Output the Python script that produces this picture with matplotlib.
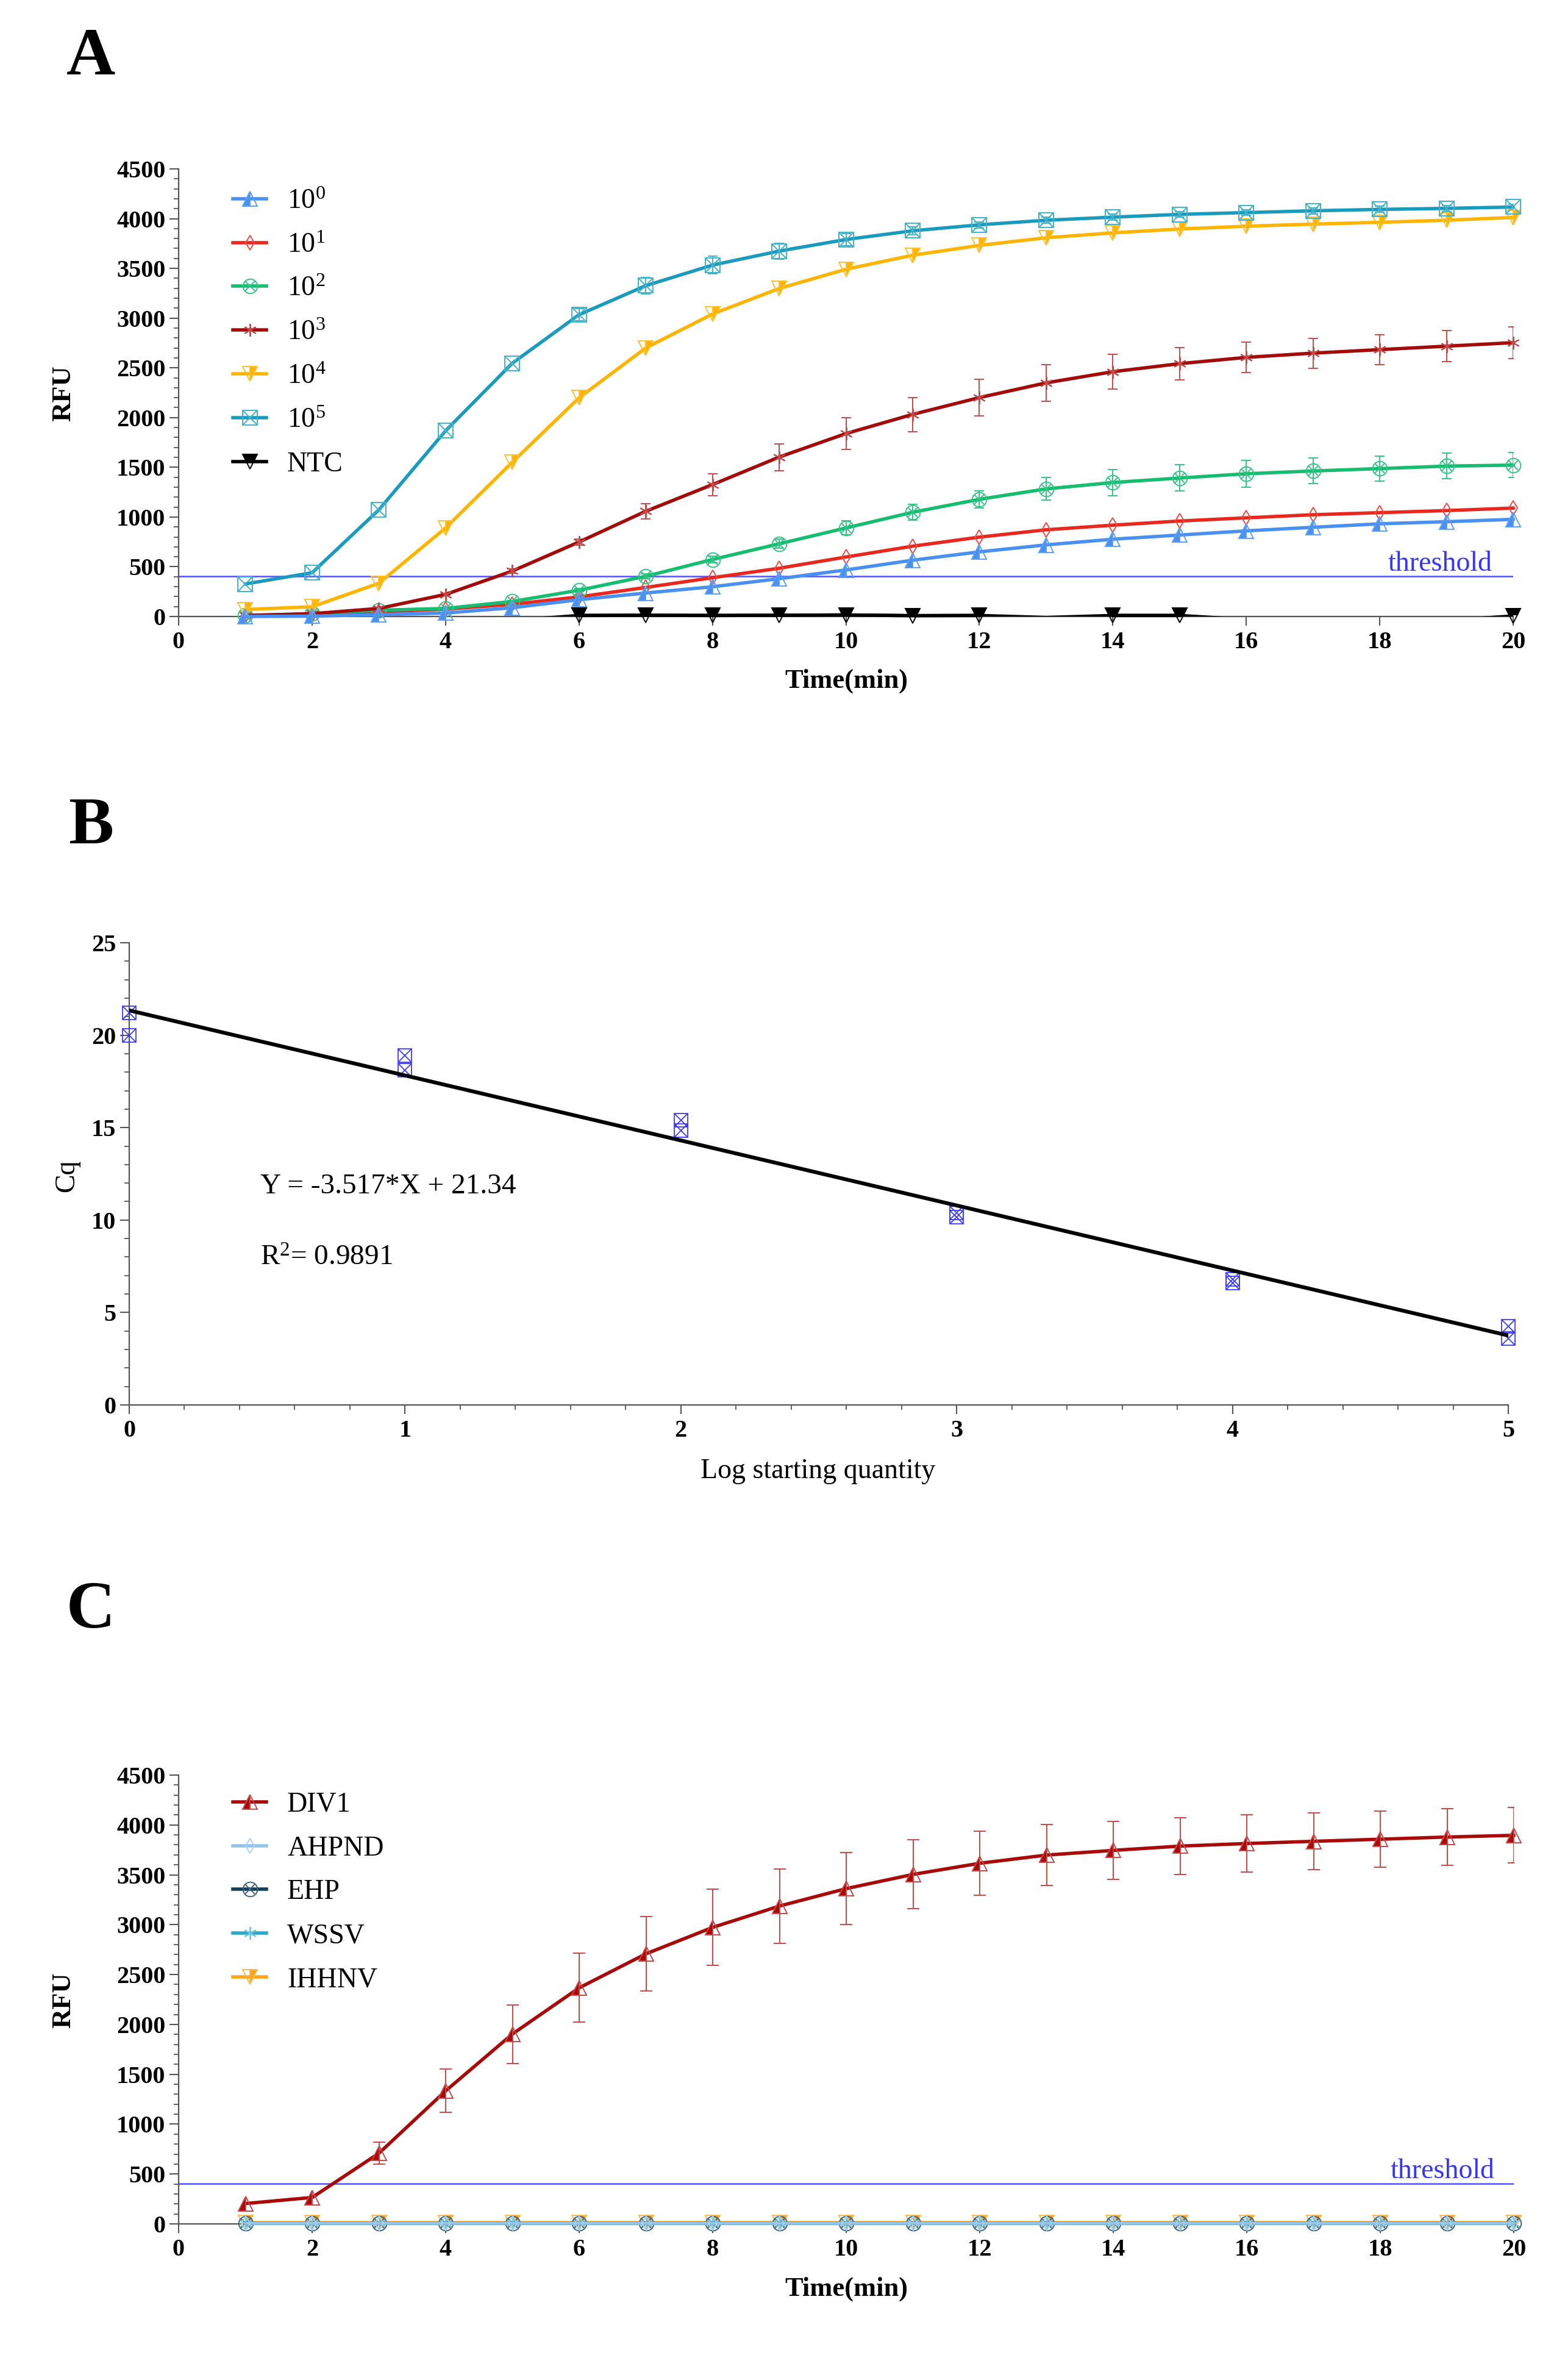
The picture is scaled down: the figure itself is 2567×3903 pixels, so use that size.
import numpy as np
import matplotlib
matplotlib.use("Agg")
import matplotlib.pyplot as plt
from matplotlib.ticker import MultipleLocator
from matplotlib.legend_handler import HandlerTuple

plt.rcParams['font.family'] = ['Liberation Serif', 'DejaVu Serif']
plt.rcParams['mathtext.fontset'] = 'custom'
plt.rcParams['mathtext.rm'] = 'Liberation Serif'
plt.rcParams['mathtext.it'] = 'Liberation Serif:italic'
plt.rcParams['mathtext.bf'] = 'Liberation Serif:bold'

# ---------------- data ----------------
time = [1, 2, 3, 4, 5, 6, 7, 8, 9, 10, 11, 12, 13, 14, 15, 16, 17, 18, 19, 20]

# Panel A: amplification curves of dilution series
rfu_1e0 = [0, 4, 18, 35, 88, 169, 236, 299, 380, 468, 566, 650, 720, 777, 819, 861, 897, 932, 953, 977]
rfu_1e1 = [5, 18, 46, 74, 123, 197, 292, 390, 485, 598, 707, 798, 872, 918, 960, 992, 1023, 1044, 1065, 1090]
rfu_1e2 = [10, 28, 63, 81, 151, 264, 404, 573, 731, 890, 1048, 1178, 1283, 1347, 1392, 1435, 1463, 1487, 1512, 1522]
err_1e2 = [0, 0, 0, 0, 10, 15, 25, 35, 45, 70, 79, 85, 114, 132, 132, 134, 128, 123, 128, 127]
rfu_1e3 = [10, 28, 81, 222, 457, 749, 1058, 1326, 1603, 1839, 2032, 2201, 2349, 2461, 2542, 2605, 2648, 2683, 2718, 2753]
err_1e3 = [0, 0, 0, 10, 20, 30, 75, 110, 135, 158, 172, 185, 183, 176, 162, 153, 150, 150, 158, 160]
rfu_1e4 = [70, 98, 334, 890, 1551, 2198, 2700, 3041, 3298, 3491, 3632, 3731, 3808, 3857, 3896, 3924, 3945, 3963, 3984, 4012]
rfu_1e5 = [327, 440, 1072, 1867, 2546, 3034, 3326, 3533, 3674, 3790, 3878, 3938, 3984, 4015, 4043, 4061, 4079, 4093, 4103, 4117]
err_1e5 = [0, 0, 0, 0, 0, 60, 80, 90, 80, 60, 40, 30, 30, 30, 30, 30, 30, 30, 30, 30]
rfu_ntc = [-40, -40, -40, -40, -40, 10, 12, 10, 12, 15, 8, 10, -10, 10, 10, -30, -40, -40, -40, 5]
labels_A = [r'$\mathregular{10^{0}}$', r'$\mathregular{10^{1}}$', r'$\mathregular{10^{2}}$',
            r'$\mathregular{10^{3}}$', r'$\mathregular{10^{4}}$', r'$\mathregular{10^{5}}$', 'NTC']

threshold = 405

# Panel B: standard curve
log_qty = [0, 0, 1, 1, 2, 2, 3, 3, 4, 4, 5, 5]
cq = [21.2, 20.0, 18.9, 18.1, 15.4, 14.85, 10.4, 10.15, 6.8, 6.6, 4.25, 3.6]
fit_slope = -3.517
fit_intercept = 21.34
fit_x = [0, 5]

# Panel C: specificity
div1 = [204, 265, 708, 1334, 1904, 2367, 2708, 2973, 3187, 3362, 3504, 3616, 3698, 3745, 3788, 3814, 3836, 3857, 3879, 3896]
err_div1 = [0, 0, 110, 216, 293, 346, 374, 382, 374, 362, 345, 319, 306, 293, 287, 287, 282, 282, 282, 278]
ahpnd = [8, 8, 8, 8, 8, 8, 8, 8, 8, 8, 8, 8, 8, 8, 8, 8, 8, 8, 8, 8]
ehp = [5, 5, 5, 5, 5, 5, 5, 5, 5, 5, 5, 5, 5, 5, 5, 5, 5, 5, 5, 5]
wssv = [6, 6, 6, 6, 6, 6, 6, 6, 6, 6, 6, 6, 6, 6, 6, 6, 6, 6, 6, 6]
ihhnv = [10, 10, 10, 10, 10, 10, 10, 10, 10, 10, 10, 10, 10, 10, 10, 10, 10, 10, 10, 10]
labels_C = ['DIV1', 'AHPND', 'EHP', 'WSSV', 'IHHNV']

# ticks
time_ticks = [0, 2, 4, 6, 8, 10, 12, 14, 16, 18, 20]
rfu_ticks = [0, 500, 1000, 1500, 2000, 2500, 3000, 3500, 4000, 4500]
b_xticks = [0, 1, 2, 3, 4, 5]
b_yticks = [0, 5, 10, 15, 20, 25]

# ---------------- figure ----------------
W, H = 2567, 3903
fig = plt.figure(figsize=(W / 100, H / 100), dpi=100)

TICK_FS = 29
SPINE_C = '#555555'


def style_axes(ax, xticks, yticks, xminor=None, yminor=None):
    for s in ['top', 'right']:
        ax.spines[s].set_visible(False)
    for s in ['left', 'bottom']:
        ax.spines[s].set_color(SPINE_C)
        ax.spines[s].set_linewidth(1.6)
    ax.set_xticks(xticks)
    ax.set_xticklabels([str(t) for t in xticks], fontweight='bold', fontsize=TICK_FS)
    ax.set_yticks(yticks)
    ax.set_yticklabels([str(t) for t in yticks], fontweight='bold', fontsize=TICK_FS)
    if xminor:
        ax.xaxis.set_minor_locator(MultipleLocator(xminor))
    if yminor:
        ax.yaxis.set_minor_locator(MultipleLocator(yminor))
    ax.tick_params(which='major', direction='out', length=10.5, width=1.5, color=SPINE_C)
    ax.tick_params(which='minor', direction='out', length=6.0, width=1.3, color=SPINE_C)
    ax.tick_params(axis='x', which='major', pad=7)
    ax.tick_params(axis='y', which='major', pad=5)


def nan_zero(a):
    a = np.asarray(a, dtype=float)
    return np.where(a > 0, a, np.nan)


LEG_KW = dict(loc='upper left', frameon=False, fontsize=33, borderpad=0, borderaxespad=0,
              handlelength=1.2, handletextpad=0.74, labelspacing=0.64,
              handler_map={tuple: HandlerTuple(ndivide=1)})

# ======== Panel A ========
axA = fig.add_axes([293 / W, 1 - 1011 / H, (2482 - 293) / W, 734 / H])
style_axes(axA, time_ticks, rfu_ticks, yminor=100)
axA.set_xlim(0, 20)
axA.set_ylim(0, 4500)

LW = 4.0
MS = 17
MEW = 1.4
t = np.array(time)

axA.axhline(threshold, color='#5050ff', lw=1.8, zorder=1)
axA.text(19.68, 460, 'threshold', ha='right', va='baseline', fontsize=33, color='#3535ff')

handles = []
h0, = axA.plot(t, rfu_1e0, color='#4a90f0', lw=LW, marker='^', ms=MS, mew=MEW,
               fillstyle='left', mfc='#4a90f0', mec='#5b9ff5', clip_on=False, zorder=5)
handles.append(h0)
h1, = axA.plot(t, rfu_1e1, color='#e8281e', lw=LW, marker='d', ms=12, mew=MEW,
               mfc='none', mec='#ee4a40', clip_on=False, zorder=4)
handles.append(h1)
axA.errorbar(t, rfu_1e2, yerr=nan_zero(err_1e2), fmt='none', ecolor='#33c585',
             elinewidth=1.4, capsize=6, capthick=1.4, zorder=3)
h2, = axA.plot(t, rfu_1e2, color='#16bc70', lw=LW, marker='o', ms=MS, mew=MEW,
               mfc='none', mec='#33c585', clip_on=False, zorder=4)
h2x, = axA.plot(t, rfu_1e2, ls='none', marker='x', ms=MS * 0.7, mew=MEW,
                mec='#33c585', clip_on=False, zorder=4)
handles.append((h2, h2x))
axA.errorbar(t, rfu_1e3, yerr=nan_zero(err_1e3), fmt='none', ecolor='#c44a4a',
             elinewidth=1.4, capsize=6, capthick=1.4, zorder=3)
h3, = axA.plot(t, rfu_1e3, color='#a30a0a', lw=LW, marker=(6, 2, 0), ms=15, mew=MEW,
               mec='#c44a4a', clip_on=False, zorder=4)
handles.append(h3)
h4, = axA.plot(t, rfu_1e4, color='#ffb400', lw=LW, marker='v', ms=MS, mew=MEW,
               fillstyle='right', mfc='#ffb400', mec='#ffc030', clip_on=False, zorder=4)
handles.append(h4)
axA.errorbar(t, rfu_1e5, yerr=nan_zero(err_1e5), fmt='none', ecolor='#3fb3cc',
             elinewidth=1.4, capsize=6, capthick=1.4, zorder=3)
h5, = axA.plot(t, rfu_1e5, color='#1a9bbd', lw=LW, marker='s', ms=MS, mew=MEW,
               mfc='none', mec='#3fb3cc', clip_on=False, zorder=4)
h5x, = axA.plot(t, rfu_1e5, ls='none', marker='x', ms=MS, mew=MEW,
                mec='#3fb3cc', clip_on=False, zorder=4)
handles.append((h5, h5x))
ntc = np.array(rfu_ntc, dtype=float)
axA.plot(t, ntc, color='k', lw=LW, clip_on=True, zorder=4)
h6, = axA.plot(t, np.where(ntc >= 0, ntc, np.nan), color='k', lw=LW, marker='v', ms=MS,
               mew=MEW, fillstyle='top', mfc='k', mec='k', clip_on=False, zorder=4)
handles.append(h6)

axA.legend(handles, labels_A, bbox_to_anchor=(0.0407, 0.956), **LEG_KW)

fig.text(104 / W, 1 - 645 / H, 'RFU', rotation=90, ha='center', va='center',
         fontsize=32, fontweight='bold')
fig.text(1388 / W, 1 - 1117 / H, 'Time(min)', ha='center', va='center',
         fontsize=32, fontweight='bold')
fig.text(149 / W, 1 - 95 / H, 'A', ha='center', va='center', fontsize=80, fontweight='bold')

# ======== Panel B ========
axB = fig.add_axes([212 / W, 1 - 2304 / H, (2474 - 212) / W, 758 / H])
style_axes(axB, b_xticks, b_yticks, xminor=0.2, yminor=1)
axB.set_xlim(0, 5)
axB.set_ylim(0, 25)
fx = np.array(fit_x, dtype=float)
axB.plot(fx, fit_slope * fx + fit_intercept, color='k', lw=4.5, zorder=4)
axB.plot(log_qty, cq, ls='none', marker='s', ms=16, mew=1.3, mfc='none', mec='#3b3bff',
         clip_on=False, zorder=3)
axB.plot(log_qty, cq, ls='none', marker='x', ms=16, mew=1.3, mec='#3b3bff',
         clip_on=False, zorder=3)
axB.text(0.475, 11.45, 'Y = -3.517*X + 21.34', ha='left', va='baseline', fontsize=34)
axB.text(0.475, 7.56, r'R$\mathregular{^2}$= 0.9891', ha='left', va='baseline', fontsize=34)

fig.text(110 / W, 1 - 1928 / H, 'Cq', rotation=90, ha='center', va='center', fontsize=33)
fig.text(1342 / W, 1 - 2413 / H, 'Log starting quantity', ha='center', va='center', fontsize=33)
fig.text(149 / W, 1 - 1356 / H, 'B', ha='center', va='center', fontsize=80, fontweight='bold')

# ======== Panel C ========
axC = fig.add_axes([293 / W, 1 - 3647 / H, (2483 - 293) / W, 736 / H])
style_axes(axC, time_ticks, rfu_ticks, yminor=100)
axC.set_xlim(0, 20)
axC.set_ylim(0, 4500)
axC.axhline(threshold, color='#5050ff', lw=1.8, zorder=1)
axC.text(19.71, 458, 'threshold', ha='right', va='baseline', fontsize=33, color='#3535ff')

c4, = axC.plot(t, ihhnv, color='#ffa41b', lw=LW, marker='v', ms=MS, mew=MEW,
               fillstyle='right', mfc='#ffa41b', mec='#ffb84a', clip_on=False, zorder=3)
c3, = axC.plot(t, wssv, color='#2aa9cc', lw=LW, marker=(6, 2, 0), ms=15, mew=MEW,
               mec='#6cc8e0', clip_on=False, zorder=3)
c2, = axC.plot(t, ehp, color='#123f5a', lw=LW, marker='o', ms=MS, mew=MEW,
               mfc='none', mec='#3e6580', clip_on=False, zorder=3)
c2x, = axC.plot(t, ehp, ls='none', marker='x', ms=MS * 0.7, mew=MEW,
                mec='#3e6580', clip_on=False, zorder=3)
c1, = axC.plot(t, ahpnd, color='#93c5ea', lw=LW, marker='d', ms=12, mew=MEW,
               mfc='none', mec='#a8d2f0', clip_on=False, zorder=3)
axC.errorbar(t, div1, yerr=nan_zero(err_div1), fmt='none', ecolor='#c84848',
             elinewidth=1.4, capsize=7, capthick=1.4, zorder=4)
c0, = axC.plot(t, div1, color='#a80a0a', lw=LW, marker='^', ms=MS, mew=MEW,
               fillstyle='left', mfc='#a80a0a', mec='#c84848', clip_on=False, zorder=5)
hc = [c0, c1, (c2, c2x), c3, c4]
axC.legend(hc, labels_C, bbox_to_anchor=(0.0407, 0.963), **LEG_KW)

fig.text(104 / W, 1 - 3280 / H, 'RFU', rotation=90, ha='center', va='center',
         fontsize=32, fontweight='bold')
fig.text(1388 / W, 1 - 3754 / H, 'Time(min)', ha='center', va='center',
         fontsize=32, fontweight='bold')
fig.text(149 / W, 1 - 2642 / H, 'C', ha='center', va='center', fontsize=80, fontweight='bold')

fig.savefig('out.png', dpi=100)
